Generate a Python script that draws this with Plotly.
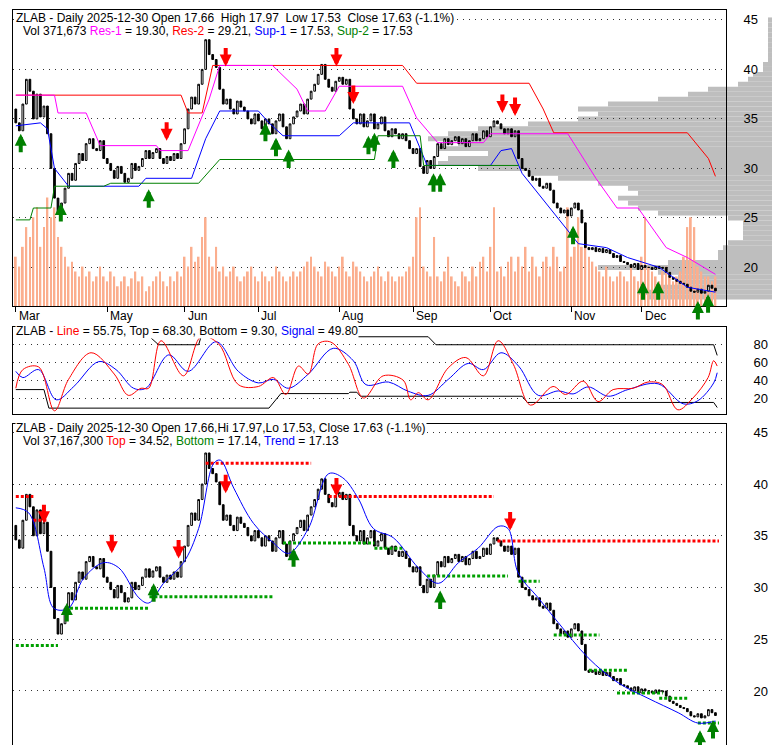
import plotly.graph_objects as go
import pandas as pd

# daily closes, last session 2025-12-30
close = [34.6, 33.8, 36.5, 39.0, 37.8, 35.0, 37.5, 35.2, 36.3, 33.5,
         30.0, 27.0, 25.5, 26.5, 28.0, 29.5, 28.8, 30.5, 31.5, 30.8,
         32.5, 33.0, 32.0, 31.8, 32.8, 31.0, 30.5, 29.8, 29.0, 30.2,
         29.5, 28.6, 29.0, 30.5, 29.8, 30.2, 31.0, 31.8, 31.0, 31.6,
         32.0, 31.0, 30.5, 31.2, 30.8, 31.5, 31.0, 32.5, 34.0, 36.0,
         37.2, 36.5, 38.5, 40.0, 43.0, 41.5, 41.0, 40.2, 38.0, 36.5,
         37.0, 36.0, 35.5, 36.8, 36.2, 35.8, 35.0, 34.5, 35.5, 34.8,
         34.0, 35.0, 34.5, 33.5, 34.8, 35.5, 34.2, 33.0, 34.5, 35.2,
         35.8, 36.5, 35.5, 37.0, 37.8, 38.5, 39.5, 40.5, 39.0, 38.2,
         37.8, 38.8, 39.2, 38.5, 39.0, 36.0, 35.0, 34.5, 35.5, 34.2,
         34.8, 35.5, 34.0, 34.5, 35.2, 33.8, 33.2, 34.0, 33.5, 33.0,
         33.5, 32.8, 32.0, 31.5, 32.0, 30.2, 29.5, 30.8, 30.0, 31.2,
         32.5, 32.0, 33.0, 32.4, 32.8, 33.2, 32.5, 33.0, 32.2, 32.8,
         33.5, 32.8, 33.0, 33.8, 33.2, 34.2, 34.8, 34.5, 34.0, 33.5,
         34.0, 33.2, 33.8, 31.0, 30.0, 29.8, 29.2, 28.8, 29.0, 28.2,
         28.0, 28.5, 27.8, 26.5, 26.0, 25.5, 25.8, 25.2, 26.0, 26.5,
         25.8, 24.5, 22.0, 21.8, 22.0, 21.6, 21.9, 21.5, 21.8, 21.4,
         21.0, 21.2, 20.6, 20.5, 20.3, 20.0, 20.4, 19.8, 20.2, 20.0,
         20.0, 19.8, 20.1, 19.9, 20.0, 19.5, 19.0, 18.8, 18.6, 18.4,
         18.3, 18.0, 17.6, 17.5, 17.8, 17.4, 17.6, 18.2, 17.9, 17.63]
first_open = 36.0

volume = [500, 400, 600, 800, 700, 900, 1000, 600, 800, 1100,
          900, 1000, 700, 600, 500, 400, 450, 350, 300, 400,
          300, 350, 250, 300, 400, 300, 250, 350, 300, 200,
          250, 300, 200, 280, 350, 250, 300, 150, 200, 250,
          300, 350, 250, 200, 300, 250, 350, 300, 500, 400,
          600, 450, 500, 700, 900, 500, 400, 600, 350, 400,
          300, 350, 400, 300, 250, 300, 350, 400, 300, 250,
          350, 300, 250, 300, 400, 350, 300, 250, 300, 350,
          300, 350, 400, 450, 500, 400, 350, 300, 450, 400,
          350, 300, 400, 500, 350, 300, 450, 400, 350, 300,
          250, 300, 350, 400, 300, 250, 350, 300, 250, 300,
          300, 350, 400, 500, 900, 1000, 400, 350, 300, 700,
          300, 250, 350, 500, 300, 250, 200, 350, 300, 250,
          400, 300, 450, 500, 350, 600, 1000, 350, 400, 300,
          450, 500, 350, 500, 400, 600, 350, 500, 400, 300,
          450, 500, 400, 600, 500, 350, 400, 1000, 500, 600,
          900, 600, 700, 500, 450, 400, 350, 300, 400, 300,
          250, 300, 350, 300, 250, 400, 300, 250, 500, 900,
          400, 350, 300, 250, 350, 400, 300, 250, 300, 350,
          500, 800, 900, 800, 400, 350, 300, 300, 250, 300]

# volume-by-price profile
profile_price = [17, 17.5, 18, 18.5, 19, 19.5, 20, 20.5, 21, 21.5, 22, 22.5, 23, 23.5, 24, 24.5,
                 25, 25.5, 26, 26.5, 27, 27.5, 28, 28.5, 29, 29.5, 30, 30.5, 31, 31.5, 32, 32.5,
                 33, 33.5, 34, 34.5, 35, 35.5, 36, 36.5, 37, 37.5, 38, 38.5, 39, 39.5, 40, 40.5,
                 41, 41.5, 42, 42.5, 43, 43.5, 44, 44.5, 45]
profile_len = [140, 150, 130, 110, 110, 130, 190, 120, 70, 70, 65, 60, 45, 45, 45, 45,
               60, 130, 150, 160, 170, 150, 160, 190, 230, 260, 310, 350, 340, 300, 350, 330,
               360, 340, 310, 260, 210, 190, 210, 180, 130, 100, 80, 50, 40, 35, 25, 25,
               20, 20, 20, 20, 20, 20, 20, 20, 20]

res2 = [(0, 37.4), (47, 37.4), (49, 35.6), (53, 35.6), (56, 40.4), (110, 40.4), (114, 38.6), (146, 38.6),
        (150, 36), (153, 33.6), (191, 33.6), (197, 31), (199, 29.2)]
res1 = [(0, 37.4), (11, 37.4), (12, 35.6), (20, 35.6), (24, 32.3), (40, 32.3), (41, 31.8), (49, 31.8),
        (55, 37), (58, 40.4), (73, 40.4), (80, 38), (83, 35.8), (88, 35.8), (92, 38.3), (110, 38.3),
        (114, 35.1), (120, 32.6), (133, 32.6), (135, 33.5), (157, 33.5), (165, 29), (171, 26), (177, 26),
        (185, 22), (191, 21), (199, 19.3)]
sup1 = [(0, 34.3), (7, 34.6), (9, 34.0), (11, 30), (15, 28.2), (35, 28.2), (37, 29), (50, 29), (54, 33),
        (58, 35.8), (69, 35.8), (72, 34.6), (76, 33.3), (92, 33.3), (96, 34.6), (112, 34.6), (117, 30.3),
        (135, 30.3), (138, 31.8), (141, 32), (144, 29.5), (152, 26), (160, 22.4), (168, 22), (174, 21),
        (183, 20), (191, 18), (199, 17.5)]
sup2 = [(0, 24.8), (4, 24.8), (5, 26), (10, 26), (11, 28.2), (25, 28.2), (27, 28.5), (52, 28.5),
        (58, 30.9), (102, 30.9), (103, 33.3), (115, 33.3), (116, 30.3), (143, 30.3)]

top_sell = [(42.9, 32.8), (59.7, 40.3), (91.2, 40.3), (96, 36.5), (138.4, 35.6), (142, 35.3)]
top_buy = [(1.4, 33.5), (12.8, 26.5), (37.8, 27.9), (71, 34.6), (74, 33.1), (77.6, 31.9), (100.3, 33.3),
           (102, 33.6), (107.4, 31.9), (118.8, 29.5), (120.7, 29.5), (158.5, 24.2), (178.4, 18.6),
           (182.7, 18.6), (194, 16.6), (196.9, 17.3)]

# oscillator panel
line_x = [0, 2, 6.5, 11, 15, 21.4, 28, 32, 35.6, 37.8, 41.3, 47.7, 52.7, 57.7, 63.3, 69, 73.3, 76.8, 80.4,
          83.2, 86, 89.6, 94.6, 98.9, 104.5, 110.2, 112.3, 114.5, 117.3, 123, 128, 133, 137.2, 141.5,
          146.4, 152.8, 156.4, 161.4, 165.6, 169.9, 175.6, 179.8, 184, 188.3, 192.6, 196.9, 198.5, 199.5]
line_y = [31, 52, 55, 5.6, 41, 71, 47, 23, 31, 31, 84.5, 45, 89, 81, 35, 33, 43, 24, 56, 47, 81, 83, 58,
          20, 45, 40, 18, 26, 18, 54, 65.6, 45, 84.5, 58, 12, 33, 24, 39, 16, 29.5, 31, 38, 35, 6.7, 20,
          43, 62, 56]
signal_x = [0, 2, 6.5, 11.5, 16.5, 23.6, 28.5, 33.5, 37, 43.5, 49, 57, 63.3, 69, 73.3, 77.5, 83.2, 90.3,
            96, 99.6, 106, 111.6, 117.3, 123, 128.7, 133, 138, 143, 148.6, 154.3, 158.5, 162.8, 168.5,
            174.1, 182.7, 189.8, 194, 198.5, 199.5]
signal_y = [50, 43, 52, 18, 33, 61, 52, 31, 31, 68.6, 50, 83.4, 50, 37, 41, 31, 47, 76, 62, 35, 38, 27.6,
            23, 41, 59, 52, 71, 56, 23, 28, 24.6, 32.5, 22, 29.5, 36, 13.5, 17, 37, 48.5]
osc_top = [(37.8, 90), (40.6, 80), (52, 80), (52.7, 89), (117.3, 89), (119.5, 80), (198.5, 80), (199.5, 68)]
osc_bottom = [(0, 29.5), (8, 29.5), (9.4, 8.6), (72, 8.6), (75.4, 25), (94.6, 25), (95, 26.5), (97, 26.5),
              (98, 22), (144, 22), (145.5, 15), (198.5, 15), (199.5, 9.3)]

# trend panel
trend_x = [0, 3.7, 8, 10.8, 15, 19.3, 25, 29.3, 35, 37.8, 42, 47.7, 52, 56.3, 58.2, 62, 67.6, 73.3, 77.6,
           83.2, 89, 93, 97.4, 101.7, 107.4, 114.5, 120.2, 125.9, 131.5, 137.2, 140, 142.9, 148.6, 154.3,
           162.8, 171.3, 179.8, 188.4, 194, 199]
trend_y = [37.7, 37.2, 31.9, 28, 28, 30.9, 32.4, 31.9, 29, 28.5, 30.4, 32.4, 35.7, 42, 42.3, 39.6, 36.2,
           34.3, 33.3, 35.7, 41, 40.6, 38.6, 35.7, 34.8, 31.9, 30.4, 32.4, 33.8, 35.9, 35.7, 31.4, 29, 26.6,
           23.2, 20.8, 19.3, 17.9, 16.9, 17.1]
top_levels = [(0, 5, 38.8), (5, 9, 36.5), (54, 84, 42), (89, 136, 38.8), (137, 200, 34.5)]
bottom_levels = [(0, 12, 24.4), (14, 38, 28), (38, 73, 29.1), (76, 102, 34.3), (102, 110, 33.8),
                 (117, 140, 31.1), (143, 149, 30.6), (153, 166, 25.4), (163, 174, 22), (171, 184, 19.8),
                 (183, 191, 19.3), (194, 200, 16.9)]
bot_sell = [(8, 36.2), (27.3, 33.3), (46.3, 32.8), (59.7, 39.1), (91.2, 38.8), (140.6, 35.5)]
bot_buy = [(14.5, 28.5), (39.2, 30.4), (79, 33.8), (120.7, 29.7), (194.6, 16.2), (198.3, 17.2)]

dates = pd.bdate_range(end='2025-12-30', periods=len(close))
idx = list(range(len(close)))
opens = [first_open] + close[:-1]
highs = [max(o, c) for o, c in zip(opens, close)]
lows = [min(o, c) for o, c in zip(opens, close)]

FONT = 'Liberation Sans, Arial, sans-serif'
fig = go.Figure()


def candles(xa, ya):
    return go.Candlestick(x=idx, open=opens, high=highs, low=lows, close=close, xaxis=xa, yaxis=ya,
                          increasing=dict(line=dict(color='black', width=1), fillcolor='white'),
                          decreasing=dict(line=dict(color='black', width=1), fillcolor='black'),
                          whiskerwidth=0, showlegend=False, hoverinfo='skip')


def pts(p):
    return [a for a, b in p], [b for a, b in p]


# top panel
fig.add_trace(go.Bar(x=idx, y=volume, marker_color='#FBAE8E', marker_line_width=0, width=0.5,
                     xaxis='x', yaxis='y2', showlegend=False))
for series, color in [(res2, 'red'), (res1, 'magenta'), (sup1, 'blue'), (sup2, 'green')]:
    xs, ys = pts(series)
    fig.add_trace(go.Scatter(x=xs, y=ys, mode='lines', line=dict(color=color, width=1),
                             xaxis='x', yaxis='y', showlegend=False))
fig.add_trace(candles('x', 'y'))

# oscillator panel
for series in (osc_top, osc_bottom):
    xs, ys = pts(series)
    fig.add_trace(go.Scatter(x=xs, y=ys, mode='lines', line=dict(color='black', width=1),
                             xaxis='x2', yaxis='y3', showlegend=False))
fig.add_trace(go.Scatter(x=signal_x, y=signal_y, mode='lines', line=dict(color='blue', width=1, shape='spline'),
                         xaxis='x2', yaxis='y3', showlegend=False))
fig.add_trace(go.Scatter(x=line_x, y=line_y, mode='lines', line=dict(color='red', width=1, shape='spline'),
                         xaxis='x2', yaxis='y3', showlegend=False))

# trend panel
for segs, col in [(top_levels, 'red'), (bottom_levels, '#00A000')]:
    for a, b, v in segs:
        fig.add_trace(go.Scatter(x=[a, b], y=[v, v], mode='lines', xaxis='x3', yaxis='y4', showlegend=False,
                                 line=dict(color=col, width=3, dash='3px,2px')))
fig.add_trace(go.Scatter(x=trend_x, y=trend_y, mode='lines', line=dict(color='blue', width=1, shape='spline'),
                         xaxis='x3', yaxis='y4', showlegend=False))
fig.add_trace(candles('x3', 'y4'))

# volume profile as shapes
shapes = []
for p, w in zip(profile_price, profile_len):
    shapes.append(dict(type='rect', xref='paper', yref='y', x0=1 - w / 775, x1=1, y0=p - 0.25, y1=p + 0.25,
                       fillcolor='#BEBEBE', line_width=0, layer='below'))

# month ticks
month_pos, month_txt = [0], ['Mar']
for i in range(1, len(dates)):
    if dates[i].month != dates[i - 1].month and dates[i].month > 4:
        month_pos.append(i)
        month_txt.append(dates[i].strftime('%b'))

xr = [-0.8, 202]
dom = [0, 0.92]
common_x = dict(range=xr, domain=dom, showgrid=False, zeroline=False, showline=True, linecolor='black',
                mirror=True, ticks='', showticklabels=False, rangeslider=dict(visible=False))
grid = dict(showgrid=True, gridcolor='#333', griddash='1px,5px', gridwidth=1, zeroline=False, side='right',
            showline=True, linecolor='black', mirror=True, tickfont=dict(size=13, family=FONT, color='black'))

fig.update_layout(
    width=780, height=745, margin=dict(l=5, r=0, t=2, b=2), plot_bgcolor='white', paper_bgcolor='white',
    font=dict(family=FONT, size=12, color='black'), bargap=0.4, shapes=shapes,
    xaxis=dict(**common_x, anchor='y', tickvals=month_pos),
    xaxis2=dict(**common_x, anchor='y3', matches='x'),
    xaxis3=dict(**common_x, anchor='y4', matches='x'),
    yaxis=dict(**grid, domain=[0.6005, 1.0], range=[16.1, 46], dtick=5, tick0=20, anchor='x',
               ticks='outside', ticklen=14, tickcolor='rgba(0,0,0,0)', overlaying='y2'),
    yaxis2=dict(domain=[0.6005, 1.0], range=[0, 3000], visible=False, anchor='x'),
    yaxis3=dict(**grid, domain=[0.4548, 0.5722], range=[2, 100], tickvals=[20, 40, 60, 80], anchor='x2',
                ticks='outside', ticklen=24, tickcolor='rgba(0,0,0,0)'),
    yaxis4=dict(**grid, domain=[0, 0.4413], range=[14.2, 45.8], anchor='x3',
                tickvals=[20, 25, 30, 35, 40, 45], ticks='outside', ticklen=24, tickcolor='rgba(0,0,0,0)'),
)
fig.update_xaxes(selector=dict(anchor='y'), ticks='outside', ticklen=5, tickcolor='black')

ann = []
# buy / sell arrows
for arr, xa, ya, col, up in [(top_sell, 'x', 'y', 'red', False), (top_buy, 'x', 'y', 'green', True),
                             (bot_sell, 'x3', 'y4', 'red', False), (bot_buy, 'x3', 'y4', 'green', True)]:
    for a, b in arr:
        ann.append(dict(x=a, y=b, xref=xa, yref=ya, ax=0, ay=20 if up else -20, text='', showarrow=True,
                        arrowhead=2, arrowsize=0.6, arrowwidth=4, arrowcolor=col, standoff=0))

for p, t in zip(month_pos, month_txt):
    ann.append(dict(x=p, y=0.6005, xref='x', yref='paper', text=t, showarrow=False, xanchor='left',
                    yanchor='top', xshift=1, yshift=-1, font=dict(size=12)))


def head(text, y):
    ann.append(dict(x=0.002, y=y, xref='paper', yref='paper', text=text, showarrow=False, xanchor='left',
                    yanchor='top', bgcolor='white', borderpad=0, font=dict(size=12)))


def sub(text, y):
    ann.append(dict(x=0.012, y=y, xref='paper', yref='paper', text=text, showarrow=False, xanchor='left',
                    yanchor='top', borderpad=0, font=dict(size=12)))


head('ZLAB - Daily 2025-12-30 Open 17.66  High 17.97  Low 17.53  Close 17.63 (-1.1%)', 1.0)
sub("Vol 371,673 <span style='color:magenta'>Res-1</span> = 19.30, <span style='color:red'>Res-2</span> = 29.21, "
    "<span style='color:blue'>Sup-1</span> = 17.53, <span style='color:green'>Sup-2</span> = 17.53", 0.982)
head("ZLAB - <span style='color:red'>Line</span> = 55.75, Top = 68.30, Bottom = 9.30, "
     "<span style='color:blue'>Signal</span> = 49.80", 0.5782)
head('ZLAB - Daily 2025-12-30 Open 17.66,Hi 17.97,Lo 17.53, Close 17.63 (-1.1%)', 0.447)
sub("Vol 37,167,300 <span style='color:red'>Top</span> = 34.52, <span style='color:green'>Bottom</span> = 17.14, "
    "<span style='color:blue'>Trend</span> = 17.13", 0.4285)
fig.update_layout(annotations=ann)

fig.write_html('out.html')
